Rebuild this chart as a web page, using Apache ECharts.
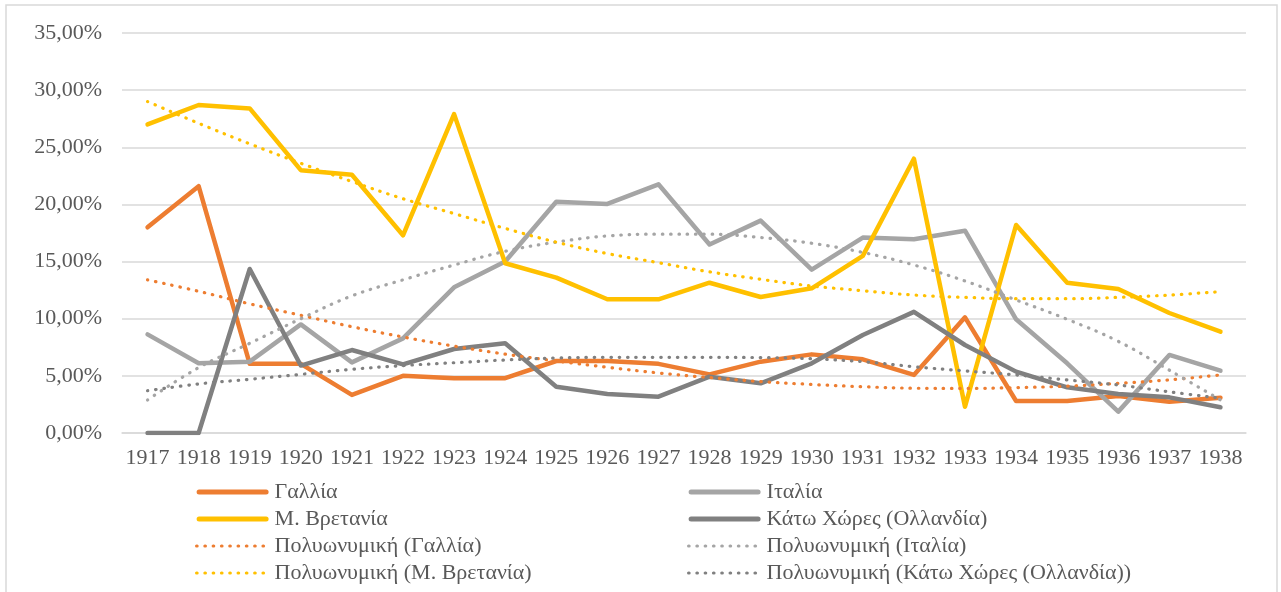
<!DOCTYPE html>
<html>
<head>
<meta charset="utf-8">
<title>chart</title>
<script src="https://cdn.jsdelivr.net/npm/echarts@6/dist/echarts.min.js"></script>
<style>
  html, body { margin: 0; padding: 0; background: #fff; }
  #main { width: 1281px; height: 592px; }
</style>
</head>
<body>
<div id="main"></div>
<script>
var years = ['1917', '1918', '1919', '1920', '1921', '1922', '1923', '1924', '1925', '1926', '1927',
  '1928', '1929', '1930', '1931', '1932', '1933', '1934', '1935', '1936', '1937', '1938'];

// ποσοστά (%)
var france = [18.0, 21.6, 6.05, 6.05, 3.33, 5.0, 4.8, 4.8, 6.3, 6.3, 6.05, 5.13, 6.24, 6.88, 6.45, 5.08, 10.12, 2.8, 2.8, 3.24, 2.74, 3.09];
var italy = [8.63, 6.1, 6.24, 9.5, 6.18, 8.28, 12.75, 15.0, 20.24, 20.04, 21.76, 16.5, 18.58, 14.3, 17.1, 16.95, 17.7, 9.95, 6.1, 1.87, 6.83, 5.45];
var britain = [27.0, 28.7, 28.4, 23.0, 22.6, 17.3, 27.9, 14.85, 13.6, 11.7, 11.7, 13.15, 11.9, 12.66, 15.5, 24.0, 2.3, 18.2, 13.15, 12.6, 10.5, 8.87];
var netherlands = [0, 0, 14.35, 5.9, 7.26, 6.0, 7.35, 7.85, 4.05, 3.41, 3.18, 4.93, 4.35, 6.1, 8.58, 10.6, 7.7, 5.37, 4.0, 3.41, 3.12, 2.25];

// γραμμές τάσης, όπως διαβάζονται από το διάγραμμα
var franceTrend = [13.4, 12.4, 11.3, 10.3, 9.3, 8.4, 7.6, 6.9, 6.3, 5.75, 5.25, 4.85, 4.5, 4.25, 4.05, 3.92, 3.9, 3.97, 4.1, 4.35, 4.65, 5.08];
var italyTrend = [2.89, 5.72, 7.85, 10.0, 12.0, 13.4, 14.7, 15.9, 16.7, 17.24, 17.4, 17.4, 17.1, 16.6, 15.8, 14.7, 13.3, 11.64, 9.95, 8.02, 5.5, 2.89];
var britainTrend = [29.0, 27.1, 25.3, 23.6, 22.0, 20.5, 19.2, 17.9, 16.7, 15.7, 14.9, 14.1, 13.45, 12.86, 12.45, 12.07, 11.87, 11.75, 11.75, 11.87, 12.07, 12.37];
var netherlandsTrend = [3.7, 4.29, 4.7, 5.13, 5.57, 5.9, 6.15, 6.39, 6.56, 6.62, 6.62, 6.62, 6.6, 6.5, 6.24, 5.8, 5.43, 5.08, 4.64, 4.2, 3.6, 3.04];

var yTicks = [0, 5, 10, 15, 20, 25, 30, 35];

var FONT = '"Liberation Serif", "DejaVu Serif", serif';
var TEXT_COLOR = '#595959';
var SOLID_W = 4.5;
var DOT_W = 3.2;
var DOTS = [0.5, 7.8];
// στρογγυλεμένη γραμμή για το υπόμνημα (72 x 5)
var BAR_ICON = 'path://M2.5,0 H69.5 A2.5,2.5 0 0 1 69.5,5 H2.5 A2.5,2.5 0 0 1 2.5,0 Z';

(function() {
  var myChart = echarts.init(document.getElementById('main'));
  myChart.setOption(buildOption());
})();

function solidSeries(name, data, color) {
  return {
    name: name,
    type: 'line',
    data: data,
    symbol: 'none',
    z: 3,
    lineStyle: { color: color, width: SOLID_W, cap: 'round', join: 'round' },
    itemStyle: { color: color }
  };
}

function trendSeries(name, data, color) {
  return {
    name: name,
    type: 'line',
    data: data,
    symbol: 'none',
    smooth: 0.4,
    z: 5,
    lineStyle: { color: color, width: DOT_W, type: DOTS, cap: 'round' },
    itemStyle: { color: color }
  };
}

function legendItem(name, color, dotted) {
  if (dotted) {
    return { name: name, lineStyle: { width: DOT_W, type: DOTS, cap: 'round' } };
  }
  return { name: name, icon: BAR_ICON, itemStyle: { color: color } };
}

function legendBox(left, items) {
  return {
    orient: 'vertical',
    left: left,
    top: 481,
    height: 111,
    padding: 0,
    itemWidth: 72,
    itemHeight: 14,
    itemGap: 5,
    data: items,
    // μόνο η γραμμή, χωρίς σύμβολο
    itemStyle: { color: 'rgba(0,0,0,0)', borderColor: 'rgba(0,0,0,0)', borderWidth: 0 },
    lineStyle: { width: 'inherit' },
    textStyle: { fontFamily: FONT, fontSize: 22, lineHeight: 22, color: TEXT_COLOR, padding: [0, 0, 0, 1] }
  };
}

function buildOption() {
  var orange = '#ED7D31';
  var lightGray = '#A5A5A5';
  var gold = '#FFC000';
  var darkGray = '#808080';
  return {
    animation: false,
    backgroundColor: '#fff',
    graphic: [{
      type: 'rect',
      shape: { x: 6, y: 5, width: 1271, height: 600 },
      style: { fill: 'none', stroke: '#D9D9D9', lineWidth: 1.5 },
      silent: true
    }],
    grid: { left: 122, right: 35, top: 33, bottom: 159 },
    legend: [
      legendBox(195, [
        legendItem('Γαλλία', orange, false),
        legendItem('Μ. Βρετανία', gold, false),
        legendItem('Πολυωνυμική (Γαλλία)', orange, true),
        legendItem('Πολυωνυμική (Μ. Βρετανία)', gold, true)
      ]),
      legendBox(687, [
        legendItem('Ιταλία', lightGray, false),
        legendItem('Κάτω Χώρες (Ολλανδία)', darkGray, false),
        legendItem('Πολυωνυμική (Ιταλία)', lightGray, true),
        legendItem('Πολυωνυμική (Κάτω Χώρες (Ολλανδία))', darkGray, true)
      ])
    ],
    xAxis: {
      type: 'category',
      data: years,
      boundaryGap: true,
      axisLine: { lineStyle: { color: '#D9D9D9', width: 1.5 } },
      axisTick: { show: false },
      axisLabel: { fontFamily: FONT, fontSize: 22, color: TEXT_COLOR, margin: 14, interval: 0 }
    },
    yAxis: {
      type: 'value',
      min: yTicks[0],
      max: yTicks[yTicks.length - 1],
      interval: 5,
      axisLine: { show: false },
      axisTick: { show: false },
      splitLine: { lineStyle: { color: '#D9D9D9', width: 1.5 } },
      axisLabel: {
        fontFamily: FONT, fontSize: 22, color: TEXT_COLOR, margin: 20,
        formatter: function (v) { return v.toFixed(2).replace('.', ',') + '%'; }
      }
    },
    series: [
      solidSeries('Γαλλία', france, orange),
      solidSeries('Ιταλία', italy, lightGray),
      solidSeries('Μ. Βρετανία', britain, gold),
      solidSeries('Κάτω Χώρες (Ολλανδία)', netherlands, darkGray),
      trendSeries('Πολυωνυμική (Γαλλία)', franceTrend, orange),
      trendSeries('Πολυωνυμική (Ιταλία)', italyTrend, lightGray),
      trendSeries('Πολυωνυμική (Μ. Βρετανία)', britainTrend, gold),
      trendSeries('Πολυωνυμική (Κάτω Χώρες (Ολλανδία))', netherlandsTrend, darkGray)
    ]
  };
}
</script>
</body>
</html>
